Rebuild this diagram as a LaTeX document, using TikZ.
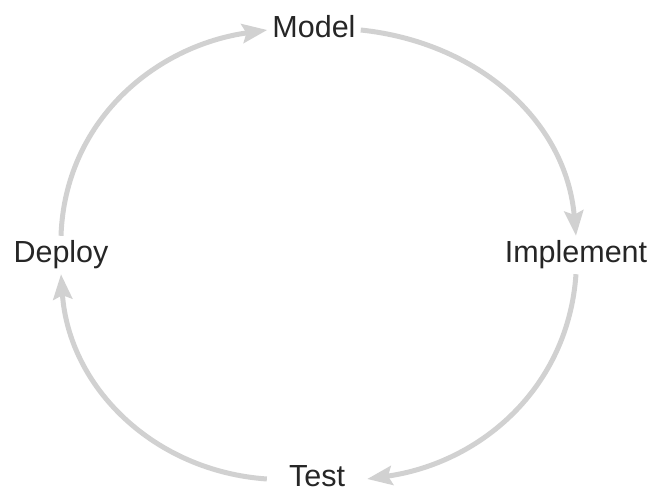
\documentclass[tikz,border=0pt]{standalone}
\usepackage{fontspec}
\setmainfont{Liberation Sans}
\usetikzlibrary{arrows.meta}
\tikzset{
  stage/.style={
    inner sep=5pt,
    text height=22pt,
    text depth=6pt,
    anchor=base,
    text=black!85,
    font=\fontsize{30.5}{36}\selectfont
  },
  flow/.style={
    draw=black!18,
    line width=5pt,
    looseness=1,
    -{Stealth[length=25pt,width=19pt,inset=4pt]}
  }
}

\begin{document}
\begin{tikzpicture}[x=1pt, y=1pt]
  \useasboundingbox (0,0) rectangle (654,493);
  % the four stages
  \node[stage] (model) at (314,455) {Model};
  \node[stage] (implement) at (576,230) {Implement};
  \node[stage, inner xsep=22pt] (test) at (317,6) {Test};
  \node[stage] (deploy) at (61,230) {Deploy};
  % the cycle
  \draw[flow] (model.east) to[out=-6, in=95] (implement.north);
  \draw[flow] (implement.south) to[out=-94, in=8] (test.east);
  \draw[flow] (test.west) to[out=176, in=-86] (deploy.south);
  \draw[flow] (deploy.north) to[out=88, in=188] (model.west);
\end{tikzpicture}
\end{document}
